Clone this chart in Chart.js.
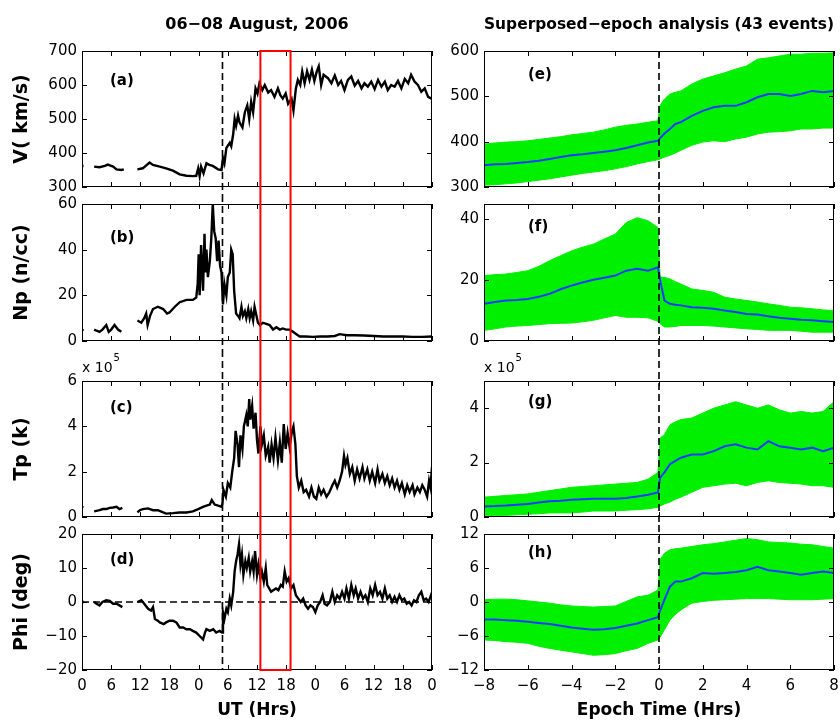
<!DOCTYPE html>
<html>
<head>
<meta charset="utf-8">
<script src="https://cdn.jsdelivr.net/npm/chart.js@4.4.1/dist/chart.umd.min.js"></script>
<style>
body { margin: 0; background: #fff; }
#wrap { position: relative; width: 840px; height: 721px; }
canvas { position: absolute; }
</style>
</head>
<body>
<div id="wrap">
<canvas id="pa" width="440" height="195" style="left:0;top:0"></canvas>
<canvas id="pb" width="440" height="155" style="left:0;top:195px"></canvas>
<canvas id="pc" width="440" height="175" style="left:0;top:350px"></canvas>
<canvas id="pd" width="440" height="196" style="left:0;top:525px"></canvas>
<canvas id="pe" width="400" height="195" style="left:440px;top:0"></canvas>
<canvas id="pf" width="400" height="155" style="left:440px;top:195px"></canvas>
<canvas id="pg" width="400" height="175" style="left:440px;top:350px"></canvas>
<canvas id="ph" width="400" height="196" style="left:440px;top:525px"></canvas>
</div>
<script>
// ---- 06-08 Aug 2006 event, hours from 00 UT on 6 Aug: [hour, value], null = data gap
var velUT = [[0,362],[0.3,361],[0.5,null],[2.5,360],[3.6,358],[4.7,362],[5.3,366],[6.4,360],[7.1,352],[8.1,350],[8.6,352],[10,null],
  [11.4,352],[12.5,355],[13.9,372],[14.6,365],[16.0,360],[17.3,355],[18.7,348],[20.1,337],[21.5,333],[22.8,332],[23.5,333],[23.9,355],
  [24.2,332],[24.5,360],[25.0,340],[25.6,370],[26.2,365],[26.9,362],[28.0,352],[28.7,350],[29.0,385],[29.3,370],[29.7,415],[30.4,430],
  [30.7,420],[31.1,455],[31.4,500],[31.7,480],[32.1,510],[32.4,490],[33.0,475],[33.5,520],[34.0,540],[34.4,500],[34.8,550],[35.2,520],
  [35.7,590],[36.1,575],[36.5,605],[37.1,585],[37.6,600],[38.3,578],[38.9,585],[39.6,565],[40.3,590],[40.8,570],[41.3,560],[41.9,575],
  [42.4,545],[43.1,560],[43.5,525],[44.0,590],[44.4,615],[44.9,600],[45.3,640],[45.8,605],[46.3,640],[46.8,615],[47.3,645],[47.8,612],
  [48.3,640],[48.7,655],[49.2,600],[49.7,630],[50.6,620],[51.3,605],[52.0,628],[52.7,600],[53.3,612],[54.0,585],[54.7,615],[55.4,625],
  [56.1,598],[56.8,612],[57.5,590],[58.1,605],[58.8,595],[59.5,610],[60.2,588],[60.9,615],[61.6,595],[62.3,610],[62.9,585],[63.6,600],
  [64.3,595],[65.0,612],[65.7,590],[66.4,618],[67.1,605],[67.7,630],[68.4,610],[69.1,600],[69.8,580],[70.5,590],[71.2,565],[71.9,560]];

var denUT = [[0,5],[0.3,4.5],[0.6,null],[2.5,5],[3.0,4.5],[3.6,4],[4.2,5],[5.0,7],[5.5,4],[6.0,5],[6.7,7],[7.4,5],[8.1,4],[9.8,null],
  [11.4,9],[12.2,8],[12.8,10],[13.2,12],[13.5,7],[14.0,11],[14.6,14],[15.6,15],[16.7,14],[17.5,12],[18.0,12.5],[19.1,15],[20.1,17],
  [21.5,18],[22.8,18],[23.5,19],[23.8,25],[24.0,38],[24.2,20],[24.5,42],[24.9,22],[25.2,47],[25.4,30],[25.6,40],[25.9,28],[26.3,35],
  [26.6,45],[26.9,60],[27.2,48],[27.5,45],[27.8,35],[28.1,44],[28.4,33],[28.7,30],[29.0,16],[29.3,25],[29.7,20],[30.0,28],[30.4,30],
  [30.7,40],[31.0,38],[31.3,22],[31.7,12],[32.1,11],[32.4,10],[32.8,15],[33.1,11],[33.5,13],[33.8,10],[34.2,14],[34.5,10],[34.8,13],
  [35.2,9],[35.5,15],[35.9,11],[36.2,8],[36.6,7],[37.2,8],[37.9,7.5],[38.6,7],[39.3,5],[40.0,6],[40.7,5],[41.3,5.5],[42.0,5],[42.7,5],
  [43.4,4],[44.1,3],[44.8,2],[46.0,2],[47.5,1.8],[49.0,2],[50.5,2],[52.0,2.2],[53.0,3],[54.5,2.5],[56.0,2.5],[58.0,2.4],[60.0,2.2],
  [62.0,2],[64.0,2],[66.0,2],[68.0,1.8],[70.0,1.8],[72.0,2]];

// proton temperature in units of 1e5 K
var tempUT = [[0,0.45],[0.3,0.42],[0.6,null],[2.5,0.25],[3.6,0.3],[4.3,0.35],[5.0,0.35],[5.7,0.4],[6.4,0.42],[7.1,0.45],[7.7,0.35],[8.3,0.4],[10,null],
  [11.4,0.2],[11.9,0.3],[12.5,0.35],[13.6,0.38],[14.6,0.3],[15.6,0.3],[16.7,0.2],[17.3,0.15],[18.7,0.17],[20.1,0.2],[21.5,0.2],[22.8,0.25],
  [23.9,0.35],[24.9,0.45],[25.6,0.5],[26.3,0.55],[26.7,0.75],[27.3,0.55],[28.0,0.5],[28.7,0.45],[28.9,0.6],[29.1,1.2],[29.6,0.9],[30.0,1.5],
  [30.5,1.3],[30.9,2.0],[31.3,2.6],[31.6,3.8],[32.0,3.2],[32.3,2.2],[32.6,3.6],[33.0,3.0],[33.3,4.0],[33.8,4.5],[34.1,4.0],[34.4,5.2],
  [34.6,4.3],[35.0,4.9],[35.3,3.9],[35.7,4.6],[36.0,3.4],[36.3,2.8],[36.7,4.0],[37.0,3.2],[37.4,3.6],[37.8,2.7],[38.3,3.1],[38.6,2.4],
  [39.0,3.2],[39.4,2.6],[39.8,3.5],[40.3,2.5],[40.7,3.3],[41.1,2.4],[41.5,4.1],[41.9,3.0],[42.3,3.7],[42.7,3.1],[43.2,3.8],[43.5,4.0],
  [43.9,3.2],[44.2,1.8],[44.6,1.3],[45.1,1.6],[45.6,1.1],[46.1,1.2],[46.7,0.9],[47.2,1.3],[47.7,0.9],[48.2,0.8],[48.7,1.3],[49.2,1.0],
  [49.7,1.2],[50.3,0.9],[50.9,1.1],[51.5,1.4],[52.0,1.6],[52.5,1.3],[53.0,1.6],[53.5,2.0],[53.9,2.7],[54.2,2.3],[54.6,2.6],[55.1,1.9],
  [55.6,2.2],[56.1,1.6],[56.6,2.1],[57.1,1.7],[57.7,2.2],[58.1,1.7],[58.7,2.1],[59.2,1.6],[59.7,2.0],[60.3,1.5],[60.8,2.1],[61.2,1.6],
  [61.8,1.9],[62.3,1.5],[62.8,1.8],[63.3,1.4],[63.8,1.7],[64.3,1.3],[64.8,1.6],[65.3,1.2],[65.8,1.5],[66.4,1.0],[66.9,1.4],[67.4,1.1],
  [68.0,1.4],[68.4,1.0],[69.0,1.3],[69.5,1.1],[70.0,1.4],[70.5,1.2],[71.0,0.9],[71.4,1.6],[71.7,1.3],[72.0,2.2]];

var phiUT = [[0,0],[0.4,0],[0.8,null],[2.5,0],[3.0,-0.5],[3.6,-1],[4.2,0],[5.0,0.5],[5.7,0.3],[6.4,-0.5],[7.1,-0.5],[7.7,-1],[8.3,-1.5],[10,null],
  [11.4,0],[12.2,0.5],[12.8,-0.5],[13.6,-2],[14.2,-2.5],[14.6,-1.5],[15.0,-5],[15.6,-5.5],[16.0,-6],[16.8,-6.5],[17.3,-6],[18.0,-5.5],
  [18.7,-5.5],[19.4,-6],[20.1,-7.5],[20.8,-7.5],[21.5,-8],[22.2,-8],[22.8,-8.5],[23.5,-9],[24.2,-10],[24.9,-11],[25.3,-9],[25.6,-8],
  [26.3,-8.5],[27.0,-8],[27.6,-9],[28.3,-8.5],[28.8,-9],[29.0,-3],[29.3,-5],[29.7,-2],[30.0,-3],[30.4,1],[30.7,-1],[31.1,3],[31.4,9],
  [31.7,12],[32.0,14],[32.3,17],[32.6,11],[32.9,14],[33.2,8],[33.6,12],[33.9,10],[34.3,13],[34.6,9],[35.0,12],[35.3,9],[35.6,15],
  [36.0,8],[36.3,11],[36.7,7],[37.0,9],[37.4,6],[37.8,10],[38.1,5],[38.5,4],[38.9,3],[39.4,3.5],[39.9,4],[40.4,3.5],[40.9,5],[41.3,4.5],
  [41.7,9],[42.1,6],[42.5,7],[43.0,4],[43.5,5],[44.0,2],[44.5,1],[45.0,0],[45.5,1],[46.0,-1],[46.5,-2],[47.0,-1],[47.5,-1.5],[48.0,-3],
  [48.5,-1],[49.0,0],[49.5,2],[49.9,-0.5],[50.4,-1],[51.0,0],[51.5,3],[52.0,0],[52.5,2],[53.0,1],[53.5,3],[54.0,1],[54.4,4],[54.9,1],
  [55.4,5],[55.9,2],[56.3,4],[56.8,1],[57.3,3],[57.8,1],[58.3,2],[58.8,0],[59.3,4],[59.8,2],[60.3,5],[60.8,2],[61.3,3],[61.8,1],[62.3,4],
  [62.8,1],[63.3,2],[63.8,0],[64.3,1.5],[64.8,0],[65.3,2],[65.8,0.5],[66.3,1],[66.8,-0.5],[67.3,0],[67.8,-1],[68.3,0.5],[68.8,0],
  [69.3,2],[69.8,3],[70.3,0.5],[70.8,1],[71.3,0],[71.8,2],[72.0,1]];

var shockUT = 28.9;          // shock arrival, ~04:54 UT 7 Aug
var sheathUT = [36.7, 42.9]; // red box

// ---- superposed epoch (43 events): mean and spread
var epochHrs = [-8,-7.5,-7,-6.5,-6,-5.5,-5,-4.5,-4,-3.5,-3,-2.5,-2,-1.5,-1,-0.5,-0.05,0.05,0.25,0.5,0.75,1,1.5,2,2.5,3,3.5,4,4.5,5,5.5,6,6.5,7,7.5,8];
var velMean = [348,350,351,353,355,358,362,366,370,372,375,378,381,386,392,398,402,408,418,428,439,443,457,468,476,479,479,487,498,505,505,501,505,512,509,512];
var velHi = [395,397,399,400,402,405,408,411,415,418,421,426,432,436,439,443,446,480,494,505,509,512,527,538,545,552,560,567,582,585,589,593,593,595,595,596];
var velLo = [304,305,307,309,312,315,318,322,326,330,333,336,340,345,351,356,360,362,366,370,375,381,392,399,402,400,406,410,417,421,422,424,428,428,430,430];
var denMean = [12.2,12.8,13.3,13.5,13.8,14.5,15.5,17,18.2,19.2,20.1,20.8,21.5,23.1,23.7,23.1,24.2,20,13.3,12.2,11.9,11.7,11.1,10.9,10.6,10.0,9.5,8.9,8.7,8.1,7.6,7.3,7.0,6.8,6.5,6.2];
var denHi = [21.5,21.8,22,22.5,23.1,24.5,26.4,28,29.6,30.8,31.8,33.5,35.1,38.9,40.5,39.5,37.3,21,20.9,20.4,19.5,18.7,17.1,16.6,16.0,14.4,13.8,13.3,12.8,12.2,11.7,11.1,10.9,10.6,10.2,10.0];
var denLo = [3.5,4.0,4.6,4.9,5.1,5.4,5.7,5.8,5.9,6.3,6.8,7.6,8.4,7.8,7.8,7.6,6.5,5.7,4.6,4.6,4.8,5.1,5.1,5.1,4.9,4.6,4.3,4.0,3.8,3.5,3.5,3.5,3.2,2.9,2.9,2.9];
var tempMean = [0.39,0.40,0.42,0.45,0.48,0.53,0.58,0.60,0.63,0.65,0.67,0.67,0.67,0.70,0.75,0.82,0.9,1.45,1.64,1.94,2.06,2.18,2.3,2.3,2.42,2.6,2.67,2.55,2.48,2.79,2.6,2.55,2.48,2.55,2.42,2.55];
var tempHi = [0.73,0.76,0.79,0.82,0.85,0.91,0.97,1.03,1.09,1.12,1.15,1.18,1.21,1.24,1.27,1.39,1.64,2.9,3.03,3.39,3.5,3.58,3.64,3.82,4.0,4.12,4.24,4.12,4.0,4.12,3.94,3.82,3.88,3.82,3.88,4.24];
var tempLo = [0.06,0.06,0.06,0.08,0.1,0.12,0.15,0.15,0.15,0.18,0.22,0.22,0.22,0.25,0.27,0.3,0.36,0.4,0.48,0.55,0.65,0.73,0.91,1.09,1.15,1.21,1.24,1.15,1.27,1.33,1.27,1.24,1.21,1.15,1.15,1.09];
var phiMean = [-3.1,-3.1,-3.2,-3.3,-3.5,-3.7,-3.9,-4.2,-4.5,-4.7,-4.9,-4.8,-4.6,-4.2,-3.8,-3.2,-2.7,-1.5,0.4,2.7,3.6,3.6,4.2,5.1,5.0,5.1,5.3,5.6,6.2,5.6,5.4,5.1,4.8,5.1,5.4,5.1];
var phiHi = [0.4,0.5,0.5,0.4,0.2,0.0,-0.2,-0.5,-0.7,-0.8,-0.9,-0.8,-0.7,0.1,0.9,1.2,2.1,7.5,8.6,9.2,9.4,9.5,9.8,10.1,10.3,10.6,10.9,11.2,11,10.6,10.5,10.4,10.2,10.1,9.8,9.5];
var phiLo = [-6.7,-6.8,-7.0,-7.1,-7.3,-7.8,-8.2,-8.5,-8.8,-9.1,-9.4,-9.3,-9.1,-8.6,-8.2,-7.3,-6.7,-6.2,-4.9,-3.2,-2.2,-1.4,-0.2,0.1,0.3,0.4,0.5,0.6,0.6,0.6,0.5,0.4,0.4,0.4,0.5,0.6];

// ---- ticks
var utTicks = [0,6,12,18,24,30,36,42,48,54,60,66,72];
var epochTicks = [-8,-6,-4,-2,0,2,4,6,8];
var velTicks = [300,400,500,600,700], denTicks = [0,20,40,60], tempTicks = [0,2,4,6], phiTicks = [-20,-10,0,10,20];
var velSepTicks = [300,400,500,600], denSepTicks = [0,20,40], tempSepTicks = [0,2,4], phiSepTicks = [-12,-6,0,6,12];

Chart.defaults.font.family = "'DejaVu Sans', sans-serif";
Chart.defaults.color = '#000';

function minus(v) { return v < 0 ? '\u2212' + (-v) : String(v); }

// matlab style box, inward ticks, panel letters, shock line and sheath box
var frame = {
  id: 'frame',
  afterDatasetsDraw: function(chart, args, o) {
    var ctx = chart.ctx, a = chart.chartArea, x = chart.scales.x, y = chart.scales.y;
    var top = o.first ? a.top : 0, bot = o.last ? a.bottom : chart.height;
    ctx.save();
    ctx.strokeStyle = '#000';
    ctx.lineWidth = 1;
    ctx.strokeRect(a.left + 0.5, a.top + 0.5, a.width - 1, a.height - 1);
    ctx.beginPath();
    o.xTicks.forEach(function(v) {
      var p = Math.round(x.getPixelForValue(v)) + 0.5;
      ctx.moveTo(p, a.top); ctx.lineTo(p, a.top + 5);
      ctx.moveTo(p, a.bottom); ctx.lineTo(p, a.bottom - 5);
    });
    o.yTicks.forEach(function(v) {
      var p = Math.round(y.getPixelForValue(v)) + 0.5;
      ctx.moveTo(a.left, p); ctx.lineTo(a.left + 5, p);
      ctx.moveTo(a.right, p); ctx.lineTo(a.right - 5, p);
    });
    ctx.stroke();

    ctx.setLineDash([7, 4]);
    ctx.lineWidth = 1.6;
    ctx.beginPath();
    var sx = x.getPixelForValue(o.vline);
    ctx.moveTo(sx, top); ctx.lineTo(sx, bot);
    if (o.hline !== undefined) {
      var hy = y.getPixelForValue(o.hline);
      ctx.moveTo(a.left, hy); ctx.lineTo(a.right, hy);
    }
    ctx.stroke();
    ctx.setLineDash([]);

    if (o.box) {
      var x1 = x.getPixelForValue(o.box[0]), x2 = x.getPixelForValue(o.box[1]);
      ctx.strokeStyle = '#ff0000';
      ctx.lineWidth = 2;
      ctx.beginPath();
      ctx.moveTo(x1, top); ctx.lineTo(x1, bot);
      ctx.moveTo(x2, top); ctx.lineTo(x2, bot);
      if (o.first) { ctx.moveTo(x1 - 1, a.top); ctx.lineTo(x2 + 1, a.top); }
      if (o.last) { ctx.moveTo(x1 - 1, a.bottom); ctx.lineTo(x2 + 1, a.bottom); }
      ctx.stroke();
    }

    ctx.fillStyle = '#000';
    ctx.font = "bold 15px 'DejaVu Sans'";
    ctx.textBaseline = 'middle';
    ctx.fillText(o.label, a.left + o.labelAt[0], a.top + o.labelAt[1]);
    if (o.exponent) {
      ctx.font = "14px 'DejaVu Sans'";
      ctx.textBaseline = 'alphabetic';
      ctx.fillText('x 10', a.left, a.top - 9);
      var w = ctx.measureText('x 10').width;
      ctx.font = "10px 'DejaVu Sans'";
      ctx.fillText('5', a.left + w + 1, a.top - 20);
    }
    ctx.restore();
  }
};

function lineSet(pts) {
  return [{ data: pts.map(function(p) { return { x: p[0], y: p[1] }; }), borderColor: '#000', borderWidth: 2.4,
    pointRadius: 0, spanGaps: false, tension: 0 }];
}

function bandSet(mean, hi, lo) {
  var xy = function(arr) { return arr.map(function(v, i) { return { x: epochHrs[i], y: v }; }); };
  return [
    { data: xy(mean), borderColor: '#1a3cff', borderWidth: 2, pointRadius: 0, tension: 0 },
    { data: xy(hi), borderColor: '#00f000', borderWidth: 1, pointRadius: 0, tension: 0, fill: false },
    { data: xy(lo), borderColor: '#00f000', borderWidth: 1, pointRadius: 0, tension: 0, fill: '-1', backgroundColor: '#00f000' }
  ];
}

function panel(id, o) {
  var left = o.col === 0;
  var xt = left ? utTicks : epochTicks;
  return new Chart(document.getElementById(id), {
    type: 'line',
    data: { datasets: o.datasets },
    options: {
      responsive: false, animation: false, devicePixelRatio: 1,
      layout: { padding: { top: o.pad[0], bottom: o.pad[1], left: 0, right: left ? 8 : 6 } },
      plugins: {
        legend: { display: false },
        tooltip: { enabled: false },
        title: o.title ? { display: true, text: o.title, fullSize: false, color: '#000',
          font: { size: 16, weight: 'bold' }, padding: { top: 15, bottom: 16.8 } } : { display: false },
        frame: { xTicks: xt, yTicks: o.yTicks, label: o.label, labelAt: o.labelAt, vline: left ? shockUT : 0,
          hline: o.hline, box: left ? sheathUT : null, first: !!o.title, last: !!o.xTitle, exponent: !!o.exponent }
      },
      scales: {
        x: {
          type: 'linear', min: xt[0], max: xt[xt.length - 1],
          afterBuildTicks: function(s) { s.ticks = xt.map(function(v) { return { value: v }; }); },
          afterFit: function(s) { s.height = o.xTitle ? 51 : 0; s.paddingLeft = 0; s.paddingRight = 0; },
          grid: { display: false, drawTicks: false }, border: { display: false },
          ticks: { display: !!o.xTitle, padding: 7, font: { size: 15 }, maxRotation: 0, autoSkip: false,
            callback: function(v) { return left ? String(v % 24) : minus(v); } },
          title: o.xTitle ? { display: true, text: o.xTitle, font: { size: 17, weight: 'bold' }, padding: { top: 0, bottom: 0 } } : { display: false }
        },
        y: {
          type: 'linear', min: o.yRange[0], max: o.yRange[1],
          afterBuildTicks: function(s) { s.ticks = o.yTicks.map(function(v) { return { value: v }; }); },
          afterFit: function(s) { s.width = left ? 82 : 44; s.paddingTop = 0; s.paddingBottom = 0; },
          grid: { display: false, drawTicks: false }, border: { display: false },
          ticks: { padding: 5, font: { size: 15 }, autoSkip: false, callback: function(v) { return minus(v); } },
          title: o.yTitle ? { display: true, text: o.yTitle, font: { size: 19, weight: 'bold' }, padding: { top: 11, bottom: 0 } } : { display: false }
        }
      }
    },
    plugins: [frame]
  });
}

panel('pa', { col: 0, datasets: lineSet(velUT), yRange: [300, 700], yTicks: velTicks, yTitle: 'V( km/s)',
  title: '06\u221208 August, 2006', pad: [0, 8], label: '(a)', labelAt: [28, 30] });
panel('pb', { col: 0, datasets: lineSet(denUT), yRange: [0, 60], yTicks: denTicks, yTitle: 'Np (n/cc)',
  pad: [9, 9], label: '(b)', labelAt: [28, 34] });
panel('pc', { col: 0, datasets: lineSet(tempUT), yRange: [0, 6], yTicks: tempTicks, yTitle: 'Tp (k)', exponent: true,
  pad: [31, 8], label: '(c)', labelAt: [28, 27] });
panel('pd', { col: 0, datasets: lineSet(phiUT), yRange: [-20, 20], yTicks: phiTicks, yTitle: 'Phi (deg)', hline: 0,
  xTitle: 'UT (Hrs)', pad: [9, 0], label: '(d)', labelAt: [28, 26] });

panel('pe', { col: 1, datasets: bandSet(velMean, velHi, velLo), yRange: [300, 600], yTicks: velSepTicks,
  title: 'Superposed\u2212epoch analysis (43 events)', pad: [0, 8], label: '(e)', labelAt: [44, 24] });
panel('pf', { col: 1, datasets: bandSet(denMean, denHi, denLo), yRange: [0, 45], yTicks: denSepTicks,
  pad: [9, 9], label: '(f)', labelAt: [44, 23] });
panel('pg', { col: 1, datasets: bandSet(tempMean, tempHi, tempLo), yRange: [0, 5], yTicks: tempSepTicks, exponent: true,
  pad: [31, 8], label: '(g)', labelAt: [44, 21] });
panel('ph', { col: 1, datasets: bandSet(phiMean, phiHi, phiLo), yRange: [-12, 12], yTicks: phiSepTicks,
  xTitle: 'Epoch Time (Hrs)', pad: [9, 0], label: '(h)', labelAt: [44, 19] });
</script>
</body>
</html>
